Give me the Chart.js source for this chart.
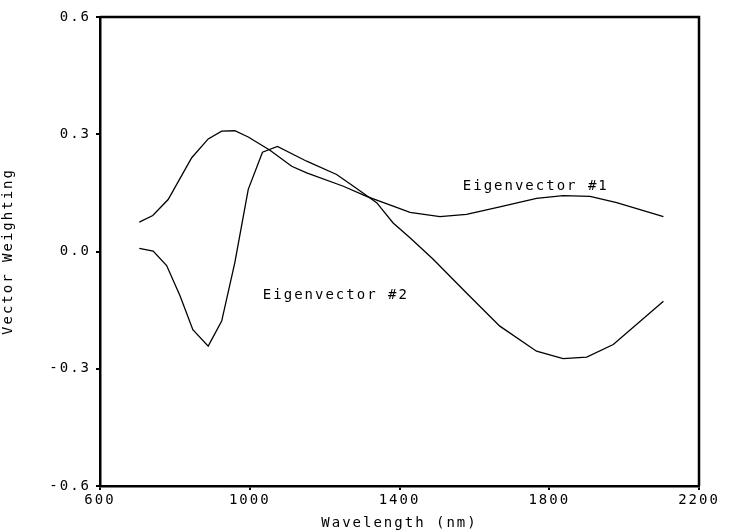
<!DOCTYPE html>
<html>
<head>
<meta charset="utf-8">
<script src="https://cdn.jsdelivr.net/npm/chart.js@4/dist/chart.umd.min.js"></script>
<style>
  body { margin: 0; background: #fff; }
  #wrap { width: 733px; height: 532px; }
</style>
</head>
<body>
<div id="wrap"><canvas id="eigenChart" width="733" height="532"></canvas></div>
<script>
// values
var ev1Wavelength = [705, 741, 782, 845, 889, 925, 960, 996, 1054, 1112, 1152, 1250, 1312, 1383, 1428, 1508, 1579, 1668, 1766, 1837, 1909, 1980, 2105];
var ev1Weight = [0.075, 0.092, 0.133, 0.240, 0.288, 0.308, 0.309, 0.293, 0.259, 0.218, 0.201, 0.167, 0.141, 0.116, 0.100, 0.089, 0.095, 0.114, 0.136, 0.143, 0.141, 0.125, 0.089];

var ev2Wavelength = [705, 742, 778, 814, 848, 889, 925, 960, 996, 1034, 1074, 1152, 1232, 1277, 1339, 1383, 1428, 1490, 1579, 1668, 1766, 1837, 1900, 1971, 2105];
var ev2Weight = [0.008, 0.001, -0.036, -0.114, -0.200, -0.242, -0.178, -0.029, 0.159, 0.254, 0.269, 0.231, 0.197, 0.167, 0.125, 0.073, 0.035, -0.020, -0.106, -0.191, -0.255, -0.274, -0.270, -0.238, -0.127];

var xTicks = [600, 1000, 1400, 1800, 2200];
var yTicks = [-0.6, -0.3, 0.0, 0.3, 0.6];

var seriesLabels = ['Eigenvector #1', 'Eigenvector #2'];
// label anchors in data units (wavelength, weighting)
var labelAnchors = [[1569, 0.166], [1035, -0.113]];

var FONT = 'DejaVu Sans Mono';

function toPoints(xs, ys) {
    return xs.map(function (x, i) { return { x: x, y: ys[i] }; });
}

// plotter-style wide lettering
var spacingPlugin = {
    id: 'spacing',
    beforeUpdate: function (chart) { chart.ctx.letterSpacing = '2px'; },
    beforeLayout: function (chart) { chart.ctx.letterSpacing = '2px'; },
    beforeDraw: function (chart) { chart.ctx.letterSpacing = '2px'; }
};

// closed box + curve labels
var framePlugin = {
    id: 'frame',
    afterDatasetsDraw: function (chart) {
        var ctx = chart.ctx, a = chart.chartArea;
        var xs = chart.scales.x, ys = chart.scales.y;
        ctx.save();
        ctx.strokeStyle = '#000';
        ctx.lineWidth = 2.5;
        ctx.beginPath();
        ctx.moveTo(a.left, a.top);
        ctx.lineTo(a.right, a.top);
        ctx.lineTo(a.right, a.bottom);
        ctx.stroke();

        ctx.fillStyle = '#000';
        ctx.font = '14px "' + FONT + '"';
        ctx.textAlign = 'left';
        ctx.textBaseline = 'middle';
        seriesLabels.forEach(function (txt, i) {
            ctx.fillText(txt, xs.getPixelForValue(labelAnchors[i][0]), ys.getPixelForValue(labelAnchors[i][1]));
        });
        ctx.restore();
    }
};

var ctx = document.getElementById('eigenChart').getContext('2d');
new Chart(ctx, {
    type: 'scatter',
    data: {
        datasets: [
            {
                label: seriesLabels[0],
                data: toPoints(ev1Wavelength, ev1Weight),
                showLine: true,
                borderColor: '#000',
                borderWidth: 1.3,
                pointRadius: 0,
                tension: 0
            },
            {
                label: seriesLabels[1],
                data: toPoints(ev2Wavelength, ev2Weight),
                showLine: true,
                borderColor: '#000',
                borderWidth: 1.3,
                pointRadius: 0,
                tension: 0
            }
        ]
    },
    options: {
        responsive: false,
        animation: false,
        layout: { padding: { top: 17, right: 34, left: 0, bottom: 0 } },
        plugins: {
            legend: { display: false },
            tooltip: { enabled: false }
        },
        scales: {
            x: {
                type: 'linear',
                min: 600,
                max: 2200,
                afterBuildTicks: function (scale) {
                    scale.ticks = xTicks.map(function (v) { return { value: v }; });
                },
                afterFit: function (scale) { scale.height = 46; },
                grid: { drawOnChartArea: false, drawTicks: true, tickLength: 4, color: '#000', lineWidth: 2 },
                border: { display: true, color: '#000', width: 2.5 },
                ticks: {
                    color: '#000',
                    font: { family: FONT, size: 14 },
                    padding: 2,
                    maxRotation: 0,
                    callback: function (v) { return String(v); }
                },
                title: {
                    display: true,
                    text: 'Wavelength (nm)',
                    color: '#000',
                    font: { family: FONT, size: 14 },
                    padding: 0
                }
            },
            y: {
                min: -0.6,
                max: 0.6,
                afterBuildTicks: function (scale) {
                    scale.ticks = yTicks.map(function (v) { return { value: v }; });
                },
                afterFit: function (scale) { scale.width = 100; },
                grid: { drawOnChartArea: false, drawTicks: true, tickLength: 4, color: '#000', lineWidth: 2 },
                border: { display: true, color: '#000', width: 2.5 },
                ticks: {
                    color: '#000',
                    font: { family: FONT, size: 14 },
                    padding: 5,
                    callback: function (v) { return Number(v).toFixed(1); }
                },
                title: {
                    display: true,
                    text: 'Vector Weighting',
                    color: '#000',
                    font: { family: FONT, size: 14 },
                    padding: 0
                }
            }
        }
    },
    plugins: [spacingPlugin, framePlugin]
});
</script>
</body>
</html>
